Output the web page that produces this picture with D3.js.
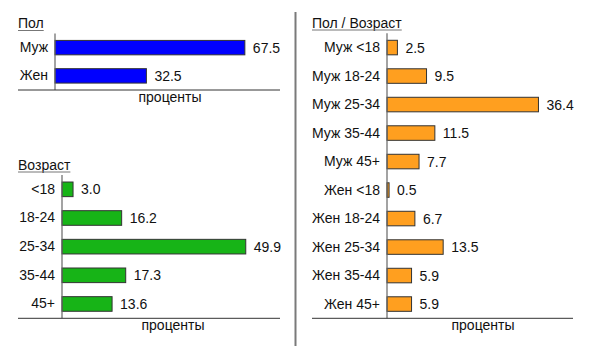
<!DOCTYPE html>
<html>
<head>
<meta charset="utf-8">
<script src="https://cdn.jsdelivr.net/npm/d3@7"></script>
<style>
  html, body { margin: 0; padding: 0; background: #fff; }
  svg { display: block; font-family: "Liberation Sans", Arial, sans-serif; }
</style>
</head>
<body>
<svg id="chart" width="600" height="346"></svg>
<script>
// Sex breakdown
const sexCategories = ["Муж", "Жен"];
const sexValues = [67.5, 32.5];

// Age breakdown
const ageCategories = ["<18", "18-24", "25-34", "35-44", "45+"];
const ageValues = [3.0, 16.2, 49.9, 17.3, 13.6];

// Sex / age breakdown
const sexAgeCategories = [
  "Муж <18", "Муж 18-24", "Муж 25-34", "Муж 35-44", "Муж 45+",
  "Жен <18", "Жен 18-24", "Жен 25-34", "Жен 35-44", "Жен 45+"
];
const sexAgeValues = [2.5, 9.5, 36.4, 11.5, 7.7, 0.5, 6.7, 13.5, 5.9, 5.9];

const axisTitle = "проценты";

const svg = d3.select("#chart");

// Vertical separator between the two columns
svg.append("line")
  .attr("x1", 295.5).attr("x2", 295.5)
  .attr("y1", 12).attr("y2", 346)
  .attr("stroke", "#7a7a7a").attr("stroke-width", 2);

function panel(cfg) {
  const g = svg.append("g");
  const y = d3.scaleBand()
    .domain(cfg.categories)
    .range([cfg.top, cfg.bottom])
    .paddingInner(0.49)
    .paddingOuter(0.245);
  const x = d3.scaleLinear()
    .domain([0, cfg.xMax])
    .range([cfg.x0, cfg.xEnd]);

  // Title with underline
  const title = g.append("text")
    .attr("x", cfg.titleX).attr("y", cfg.titleY)
    .attr("font-size", 14).attr("fill", "#111")
    .text(cfg.title);
  const tw = title.node().getComputedTextLength();
  g.append("line")
    .attr("x1", cfg.titleX).attr("x2", cfg.titleX + tw)
    .attr("y1", cfg.titleY + 2.5).attr("y2", cfg.titleY + 2.5)
    .attr("stroke", "#777").attr("stroke-width", 1);

  // Bars
  const data = cfg.categories.map((c, i) => ({ c, v: cfg.values[i] }));
  g.selectAll("rect.bar").data(data).join("rect")
    .attr("class", "bar")
    .attr("x", x(0))
    .attr("y", d => y(d.c))
    .attr("width", d => x(d.v) - x(0))
    .attr("height", y.bandwidth())
    .attr("fill", cfg.color)
    .attr("stroke", "#333")
    .attr("stroke-width", 1);

  // Value labels
  g.selectAll("text.val").data(data).join("text")
    .attr("class", "val")
    .attr("x", d => x(d.v) + 8)
    .attr("y", d => y(d.c) + y.bandwidth() / 2)
    .attr("dy", "0.36em")
    .attr("font-size", 14).attr("fill", "#111")
    .text(d => d.v.toFixed(1));

  // Category axis
  const axis = d3.axisLeft(y).tickSize(0).tickPadding(7);
  const ag = g.append("g")
    .attr("transform", `translate(${x(0)},0)`)
    .call(axis);
  ag.select(".domain").remove();
  ag.selectAll("text")
    .attr("font-size", 14).attr("fill", "#111")
    .attr("font-family", "Liberation Sans, Arial, sans-serif");
  g.append("line")
    .attr("x1", x(0)).attr("x2", x(0))
    .attr("y1", cfg.top).attr("y2", cfg.bottom)
    .attr("stroke", "#666").attr("stroke-width", 1.2);

  // Baseline and axis title
  g.append("line")
    .attr("x1", cfg.lineX0).attr("x2", cfg.xEnd)
    .attr("y1", cfg.bottom).attr("y2", cfg.bottom)
    .attr("stroke", "#333").attr("stroke-width", 1);
  g.append("text")
    .attr("x", cfg.labelX).attr("y", cfg.bottom + 11.5)
    .attr("text-anchor", "middle")
    .attr("font-size", 14).attr("fill", "#111")
    .text(axisTitle);
}

panel({
  title: "Пол", titleX: 18, titleY: 28,
  categories: sexCategories, values: sexValues, color: "#0000ff",
  top: 33.5, bottom: 90, x0: 55, xEnd: 280, xMax: 80, lineX0: 18, labelX: 170
});

panel({
  title: "Возраст", titleX: 18, titleY: 169.5,
  categories: ageCategories, values: ageValues, color: "#17b417",
  top: 175, bottom: 318.3, x0: 62, xEnd: 280, xMax: 59.2, lineX0: 18, labelX: 173
});

panel({
  title: "Пол / Возраст", titleX: 312, titleY: 27.5,
  categories: sexAgeCategories, values: sexAgeValues, color: "#ff9f1f",
  top: 33.3, bottom: 318.3, x0: 387, xEnd: 573, xMax: 44.7, lineX0: 312, labelX: 483
});
</script>
</body>
</html>
